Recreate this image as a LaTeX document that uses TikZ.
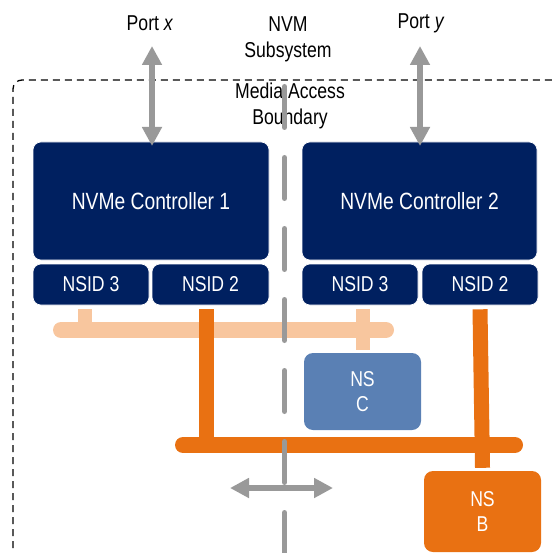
\documentclass[tikz,border=0pt]{standalone}
\usepackage{fontspec}
\setmainfont{Liberation Sans}[FakeStretch=0.82]
\usetikzlibrary{arrows.meta}
\definecolor{navy}{RGB}{0,32,96}
\definecolor{nsblue}{RGB}{90,128,180}
\definecolor{dorange}{RGB}{233,113,18}
\definecolor{lorange}{RGB}{248,198,158}
\definecolor{agray}{RGB}{153,153,153}
\tikzset{
  ctrl/.style={draw=white, line width=0.6pt, fill=navy, rounded corners=8pt, text=white, inner sep=0pt, font=\fontsize{23.5}{27}\selectfont},
  nsid/.style={draw=white, line width=0.6pt, fill=navy, rounded corners=8pt, text=white, inner sep=0pt, minimum height=41pt, font=\fontsize{21.5}{25}\selectfont},
  nsbox/.style={rounded corners=9pt, text=white, inner sep=0pt, align=center, font=\fontsize{21.5}{25}\selectfont},
  lbl/.style={align=center, inner sep=0pt, font=\fontsize{21.5}{26}\selectfont},
  lbus/.style={lorange, line width=16pt, line cap=round},
  lstub/.style={lorange, line width=14pt},
  dbus/.style={dorange, line width=16pt, line cap=round},
  dstub/.style={dorange, line width=15pt},
  garrow/.style={agray, line width=5.5pt, {Triangle[width=19pt,length=19pt]}-{Triangle[width=19pt,length=19pt]}},
}
\begin{document}
\begin{tikzpicture}[x=1pt,y=-1pt]
\useasboundingbox (0,0) rectangle (553,553);
% outer dashed boundary
\coordinate (obl) at (13,560);
\coordinate (otr) at (560,80);
\draw[black, line width=1.3pt, dash pattern=on 7pt off 5pt, rounded corners=9pt] (obl) |- (otr);
% labels
\node[lbl] (px) at (150,23) {Port \textit{x}};
\node[lbl] (py) at (421,23) {Port \textit{y}};
\node[lbl] (nvm) at (288,39) {NVM\\Subsystem};
\node[lbl] (mab) at (290,106) {Media Access\\Boundary};
% controllers
\node[ctrl, minimum width=236pt, minimum height=118pt] (c1) at (151,201) {NVMe Controller 1};
\node[ctrl, minimum width=235pt, minimum height=118pt] (c2) at (419.5,201) {NVMe Controller 2};
\node[nsid, minimum width=116pt] (n3l) at (91,284.5) {NSID 3};
\node[nsid, minimum width=117pt] (n2l) at (210.5,284.5) {NSID 2};
\node[nsid, minimum width=116pt] (n3r) at (360,284.5) {NSID 3};
\node[nsid, minimum width=116pt] (n2r) at (480,284.5) {NSID 2};
% namespaces
\node[nsbox, fill=nsblue, minimum width=117pt, minimum height=77pt] (nsc) at (362.5,391.5) {NS\\C};
\node[nsbox, fill=dorange, minimum width=117pt, minimum height=81pt] (nsb) at (482.5,511.5) {NS\\B};
% port arrows
\coordinate (pxa) at (152,46);
\coordinate (pxb) at (152,146);
\coordinate (pya) at (420,46);
\coordinate (pyb) at (420,146);
\draw[garrow] (pxa) -- (pxb);
\draw[garrow] (pya) -- (pyb);
% light orange bus
\coordinate (lbL) at (61,330);
\coordinate (lbR) at (386,330);
\draw[lstub] ([xshift=-6pt,yshift=-4pt]n3l.south) -- ([xshift=-6pt]n3l.south |- lbL);
\draw[lstub] ([xshift=3pt,yshift=-4pt]n3r.south) -- ([xshift=3pt,yshift=3pt]n3r.south |- nsc.north);
\draw[lbus] (lbL) -- (lbR);
% dark orange bus
\coordinate (dbL) at (183,445);
\coordinate (dbR) at (515,445);
\draw[dstub] ([xshift=-4.5pt,yshift=-4pt]n2l.south) -- ([xshift=-4.5pt]n2l.south |- dbL);
\draw[dstub] ([yshift=-4pt]n2r.south) -- ([yshift=3pt]nsb.north);
\draw[dbus] (dbL) -- (dbR);
% media access boundary line
\coordinate (mt) at (284.5,86.5);
\coordinate (mb) at (284.5,560);
\draw[agray, line width=5pt, line cap=round, dash pattern=on 41pt off 30pt] (mt) -- (mb);
% horizontal arrow
\coordinate (ha) at (230,488);
\coordinate (hb) at (333,488);
\draw[garrow] (ha) -- (hb);
\end{tikzpicture}
\end{document}
